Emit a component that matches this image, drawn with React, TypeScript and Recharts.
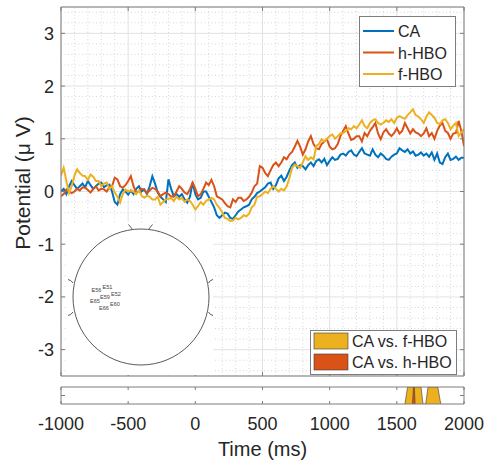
import React from 'react';
import { ComposedChart, Line, Area, XAxis, YAxis, CartesianGrid, ReferenceLine } from 'recharts';

// ---- data ----
const START_MS = -1000;
const STEP_MS = 20;

const CA = [
  0.0, 0.05, -0.05, 0.1, 0.2, 0.12, 0.05, 0.1, 0.15, 0.08,
  0.2, 0.12, 0.05, 0.1, 0.15, 0.17, 0.08, 0.12, 0.13, 0.0,
  -0.2, -0.25, -0.05, 0.04, 0.0, -0.06, 0.02, -0.05, 0.05, 0.1,
  0.0, 0.04, -0.05, 0.1, 0.29, 0.15, -0.02, -0.1, -0.15, -0.2,
  0.23, 0.05, -0.09, -0.05, -0.1, -0.05, -0.15, -0.21, -0.1, 0.17,
  -0.05, -0.15, -0.12, 0.0, 0.0, -0.1, -0.2, -0.3, -0.45, -0.5,
  -0.45, -0.4, -0.42, -0.5, -0.52, -0.45, -0.38, -0.34, -0.3, -0.28,
  -0.25, -0.15, -0.1, -0.03, 0.0, 0.04, 0.08, 0.15, 0.17, 0.05,
  0.12, 0.25, 0.3, 0.2, 0.28, 0.4, 0.5, 0.55, 0.45, 0.5,
  0.48, 0.42, 0.5, 0.55, 0.48, 0.58, 0.61, 0.55, 0.62, 0.5,
  0.58, 0.65, 0.6, 0.62, 0.7, 0.72, 0.68, 0.75, 0.78, 0.7,
  0.67, 0.75, 0.82, 0.72, 0.7, 0.68, 0.8, 0.7, 0.65, 0.72,
  0.68, 0.62, 0.6, 0.66, 0.7, 0.72, 0.82, 0.78, 0.75, 0.8,
  0.72, 0.76, 0.68, 0.7, 0.74, 0.68, 0.72, 0.66, 0.74, 0.6,
  0.72, 0.55, 0.52, 0.65, 0.72, 0.6, 0.62, 0.66, 0.6, 0.64,
  0.64,
];

const H_HBO = [
  -0.09, -0.05, 0.04, 0.0, -0.03, 0.0, 0.05, 0.02, 0.08, 0.07,
  0.03, -0.02, 0.05, 0.1, 0.02, 0.05, 0.04, 0.0, 0.08, 0.1,
  0.26, 0.23, 0.1, 0.07, 0.12, 0.2, 0.29, 0.1, -0.02, 0.0,
  0.05, 0.04, -0.03, 0.02, 0.07, 0.05, 0.0, -0.09, -0.05, -0.02,
  -0.05, -0.1, -0.09, 0.0, 0.1, 0.05, -0.02, -0.05, 0.05, 0.17,
  0.05, -0.09, -0.05, 0.05, 0.17, 0.12, 0.22, 0.1, -0.09, -0.12,
  -0.15, -0.22, -0.28, -0.3, -0.15, -0.2, -0.12, -0.12, -0.18, -0.15,
  -0.1, -0.02, 0.1, 0.15, 0.48, 0.45, 0.35, 0.29, 0.4, 0.5,
  0.55, 0.48, 0.55, 0.65, 0.61, 0.7, 0.75, 0.85, 0.96, 0.85,
  0.7, 0.8, 0.95, 1.05, 0.9, 0.82, 0.8, 0.9, 0.95, 0.99,
  0.85, 0.8, 0.82, 0.9, 1.05, 1.15, 1.24, 1.1, 0.98, 1.0,
  1.05, 1.05, 0.95, 1.11, 1.05, 1.15, 1.22, 1.3, 1.1, 0.99,
  1.12, 1.18, 1.1, 1.05, 1.11, 1.2, 1.1, 1.15, 1.3, 1.2,
  1.1, 1.18, 1.12, 1.1, 1.05, 1.1, 1.2, 1.05, 1.11, 1.0,
  1.15, 1.25, 1.3, 1.15, 1.11, 1.0, 1.1, 1.11, 1.34, 1.15,
  0.86,
];

const F_HBO = [
  0.3, 0.45, 0.2, -0.03, 0.1, 0.3, 0.42, 0.35, 0.3, 0.29,
  0.22, 0.32, 0.28, 0.2, 0.2, 0.1, 0.15, 0.17, 0.05, 0.1,
  -0.02, -0.1, -0.21, -0.05, 0.04, 0.0, 0.02, 0.0, -0.05, 0.02,
  -0.08, -0.12, -0.08, -0.1, -0.15, -0.15, -0.1, -0.25, -0.2, -0.15,
  -0.14, -0.12, -0.18, -0.1, -0.15, -0.12, -0.2, -0.15, -0.18, -0.25,
  -0.34, -0.28, -0.2, -0.25, -0.18, -0.15, -0.12, -0.15, -0.25, -0.31,
  -0.4, -0.5, -0.52, -0.56, -0.55, -0.5, -0.53, -0.5, -0.45, -0.47,
  -0.42, -0.3, -0.25, -0.1, -0.09, -0.05, 0.0, -0.03, 0.05, 0.1,
  0.05, 0.0, 0.05, 0.02, 0.1, 0.25, 0.45, 0.51, 0.48, 0.45,
  0.55, 0.67, 0.6, 0.65, 0.61, 0.86, 0.9, 0.99, 0.95, 1.0,
  1.05, 1.08, 1.0, 1.05, 1.1, 1.11, 1.15, 1.2, 1.18, 1.24,
  1.2, 1.27, 1.35, 1.24, 1.2, 1.3, 1.35, 1.37, 1.3, 1.27,
  1.3, 1.35, 1.32, 1.37, 1.3, 1.4, 1.43, 1.4, 1.38, 1.45,
  1.5, 1.56, 1.45, 1.42, 1.37, 1.3, 1.42, 1.5, 1.45, 1.4,
  1.3, 1.28, 1.35, 1.37, 1.3, 1.18, 1.25, 1.3, 1.05, 1.12,
  1.18,
];

const SERIES_NAMES = ['CA', 'h-HBO', 'f-HBO'];
const SERIES_COLORS = ['#0072BD', '#D95319', '#EDB120'];

const X_TICKS = [-1000, -500, 0, 500, 1000, 1500, 2000];
const Y_TICKS = [-3, -2, -1, 0, 1, 2, 3];
const MINOR_X = [-900, -800, -700, -600, -400, -300, -200, -100, 100, 200, 300, 400, 600, 700, 800, 900, 1100, 1200, 1300, 1400, 1600, 1700, 1800, 1900];
const MINOR_Y = [-3.4, -3.2, -2.8, -2.6, -2.4, -2.2, -1.8, -1.6, -1.4, -1.2, -0.8, -0.6, -0.4, -0.2, 0.2, 0.4, 0.6, 0.8, 1.2, 1.4, 1.6, 1.8, 2.2, 2.4, 2.6, 2.8, 3.2, 3.4];

const SIG_NAMES = ['CA vs. f-HBO', 'CA vs. h-HBO'];
const SIG_COLORS = ['#EDB120', '#D95319'];
const SIG_F_TIMES = [1560, 1580, 1680, 1695, 1715, 1732, 1805, 1827];
const SIG_F_VALUES = [0, 1, 1, 0, 0, 1, 1, 0];
const SIG_H_TIMES = [1616, 1624, 1630, 1636];
const SIG_H_VALUES = [0, 1, 1, 0];

const ELECTRODES = ['E56', 'E51', 'E52', 'E59', 'E65', 'E60', 'E66'];

// ---- tables ----
const rows = CA.map((v, i) => ({ t: START_MS + i * STEP_MS, ca: v, h: H_HBO[i], f: F_HBO[i] }));
const sigF = SIG_F_TIMES.map((t, i) => ({ t, v: SIG_F_VALUES[i] }));
const sigH = SIG_H_TIMES.map((t, i) => ({ t, v: SIG_H_VALUES[i] }));

const AX = '#7d7d7d';
const TXT = '#262626';
const FONT = '"Liberation Sans", Arial, Helvetica, sans-serif';

const BottomTick = (p: any) => <line x1={p.x} x2={p.x} y1={p.y} y2={p.y - 4} stroke={AX} />;
const TopTick = (p: any) => <line x1={p.x} x2={p.x} y1={p.y} y2={p.y + 4} stroke={AX} />;
const RightTick = (p: any) => <line x1={p.x} x2={p.x - 4} y1={p.y} y2={p.y} stroke={AX} />;
const LeftTick = (p: any) => (
  <g>
    <line x1={p.x} x2={p.x + 4} y1={p.y} y2={p.y} stroke={AX} />
    <text x={p.x - 7} y={p.y + 6.5} textAnchor="end" fontSize={18} fill={TXT} fontFamily={FONT}>
      {p.payload.value}
    </text>
  </g>
);
const LeftTickPlain = (p: any) => <line x1={p.x} x2={p.x + 4} y1={p.y} y2={p.y} stroke={AX} />;
const StripBottomTick = (p: any) => (
  <g>
    <line x1={p.x} x2={p.x} y1={p.y} y2={p.y - 3} stroke={AX} />
    <text x={p.x} y={p.y + 26} textAnchor="middle" fontSize={18} fill={TXT} fontFamily={FONT}>
      {p.payload.value}
    </text>
  </g>
);
const StripTopTick = (p: any) => <line x1={p.x} x2={p.x} y1={p.y} y2={p.y + 3} stroke={AX} />;

export default function App() {
  return (
    <div style={{ position: 'absolute', left: 0, top: 0, width: 489, height: 464, background: '#fff', fontFamily: FONT }}>
      <div style={{ position: 'absolute', left: 0, top: 0 }}>
        <ComposedChart width={489} height={384} data={rows} margin={{ top: 0, right: 0, bottom: 0, left: 0 }}>
          <CartesianGrid stroke="#e2e2e2" strokeWidth={1} />
          {MINOR_X.map((v) => (
            <ReferenceLine key={'mx' + v} x={v} stroke="#d6d6d6" strokeDasharray="1 2.5" strokeWidth={1} />
          ))}
          {MINOR_Y.map((v) => (
            <ReferenceLine key={'my' + v} y={v} stroke="#d6d6d6" strokeDasharray="1 2.5" strokeWidth={1} />
          ))}
          <XAxis dataKey="t" type="number" domain={[-1000, 2000]} ticks={X_TICKS} allowDataOverflow
            height={8} tickSize={0} tickMargin={0} tickLine={false} tick={<BottomTick />} axisLine={{ stroke: AX }} />
          <XAxis xAxisId="top" orientation="top" dataKey="t" type="number" domain={[-1000, 2000]} ticks={X_TICKS} allowDataOverflow
            height={7} tickSize={0} tickMargin={0} tickLine={false} tick={<TopTick />} axisLine={{ stroke: AX }} />
          <YAxis type="number" domain={[-3.5, 3.5]} ticks={Y_TICKS} allowDataOverflow width={61}
            tickSize={0} tickMargin={0} tickLine={false} tick={<LeftTick />} axisLine={{ stroke: AX }} />
          <YAxis yAxisId="right" orientation="right" type="number" domain={[-3.5, 3.5]} ticks={Y_TICKS} allowDataOverflow width={25}
            tickSize={0} tickMargin={0} tickLine={false} tick={<RightTick />} axisLine={{ stroke: AX }} />
          <Line dataKey="ca" name={SERIES_NAMES[0]} stroke={SERIES_COLORS[0]} strokeWidth={2} dot={false} type="linear" isAnimationActive={false} />
          <Line dataKey="h" name={SERIES_NAMES[1]} stroke={SERIES_COLORS[1]} strokeWidth={2} dot={false} type="linear" isAnimationActive={false} />
          <Line dataKey="f" name={SERIES_NAMES[2]} stroke={SERIES_COLORS[2]} strokeWidth={2} dot={false} type="linear" isAnimationActive={false} />
        </ComposedChart>
      </div>
      <div style={{ position: 'absolute', left: 0, top: 380 }}>
        <ComposedChart width={489} height={84} margin={{ top: 0, right: 0, bottom: 0, left: 0 }}>
          <XAxis dataKey="t" type="number" domain={[-1000, 2000]} ticks={X_TICKS} allowDataOverflow
            height={60} tickSize={0} tickMargin={0} tickLine={false} tick={<StripBottomTick />} axisLine={{ stroke: AX }} />
          <XAxis xAxisId="top" orientation="top" dataKey="t" type="number" domain={[-1000, 2000]} ticks={X_TICKS} allowDataOverflow
            height={7} tickSize={0} tickMargin={0} tickLine={false} tick={<StripTopTick />} axisLine={{ stroke: AX }} />
          <YAxis type="number" domain={[0, 1]} ticks={[0.5]} allowDataOverflow width={61}
            tickSize={0} tickMargin={0} tickLine={false} tick={<LeftTickPlain />} axisLine={{ stroke: AX }} />
          <YAxis yAxisId="right" orientation="right" type="number" domain={[0, 1]} ticks={[0.5]} allowDataOverflow width={25}
            tickSize={0} tickMargin={0} tickLine={false} tick={<RightTick />} axisLine={{ stroke: AX }} />
          <Area data={sigF} dataKey="v" name={SIG_NAMES[0]} type="linear" fill={SIG_COLORS[0]} fillOpacity={1}
            stroke="#3a3a3a" strokeWidth={0.6} dot={false} isAnimationActive={false} />
          <Area data={sigH} dataKey="v" name={SIG_NAMES[1]} type="linear" fill={SIG_COLORS[1]} fillOpacity={1}
            stroke="#3a3a3a" strokeWidth={0.6} dot={false} isAnimationActive={false} />
        </ComposedChart>
      </div>
      <svg width={489} height={464} style={{ position: 'absolute', left: 0, top: 0, pointerEvents: 'none' }}>
        {/* inset head */}
        <rect x={66} y={222} width={147} height={153} fill="#fff" />
        <circle cx={141} cy={297} r={68} fill="none" stroke="#5a5a5a" strokeWidth={1} />
        <line x1={128.5} y1={224.5} x2={132.5} y2={229.5} stroke="#5a5a5a" strokeWidth={1} />
        <line x1={152.5} y1={224.5} x2={148.5} y2={229.5} stroke="#5a5a5a" strokeWidth={1} />
        <path d="M68,279.5 Q71,280 73,283" fill="none" stroke="#5a5a5a" strokeWidth={1} />
        <path d="M68,315.5 Q71,315 73,312" fill="none" stroke="#5a5a5a" strokeWidth={1} />
        <path d="M213,279.5 Q210,280 208.5,283" fill="none" stroke="#5a5a5a" strokeWidth={1} />
        <path d="M213,315.5 Q210,315 208.5,312" fill="none" stroke="#5a5a5a" strokeWidth={1} />
        <g fontSize={5.6} fill="#444" fontFamily={FONT}>
          <text x={91.5} y={291.5}>{ELECTRODES[0]}</text>
          <text x={102.5} y={289}>{ELECTRODES[1]}</text>
          <text x={111} y={295.7}>{ELECTRODES[2]}</text>
          <text x={100} y={299}>{ELECTRODES[3]}</text>
          <text x={90} y={303}>{ELECTRODES[4]}</text>
          <text x={110} y={306.3}>{ELECTRODES[5]}</text>
          <text x={99} y={310}>{ELECTRODES[6]}</text>
        </g>

        {/* top-right legend */}
        <rect x={359.5} y={16.5} width={96} height={70} fill="#fff" stroke={AX} strokeWidth={1} />
        {SERIES_NAMES.map((n, i) => (
          <g key={n}>
            <line x1={363} x2={394} y1={31 + i * 21.5} y2={31 + i * 21.5} stroke={SERIES_COLORS[i]} strokeWidth={2} />
            <text x={398} y={31 + i * 21.5 + 6} fontSize={16} fill={TXT} fontFamily={FONT}>{n}</text>
          </g>
        ))}

        {/* bottom-right legend */}
        <rect x={310.5} y={330.5} width={146} height={44} fill="#fff" stroke={AX} strokeWidth={1} />
        {SIG_NAMES.map((n, i) => (
          <g key={n}>
            <rect x={314} y={333 + i * 21} width={34} height={16} fill={SIG_COLORS[i]} stroke="#3a3a3a" strokeWidth={0.6} />
            <text x={352} y={347 + i * 21} fontSize={16} fill={TXT} fontFamily={FONT}>{n}</text>
          </g>
        ))}

        {/* axis labels */}
        <text x={262.5} y={456} textAnchor="middle" fontSize={20} fill={TXT} fontFamily={FONT}>Time (ms)</text>
        <text transform="translate(30,183) rotate(-90)" textAnchor="middle" fontSize={21} fill={TXT} fontFamily={FONT}>Potential (μ V)</text>
      </svg>
    </div>
  );
}
